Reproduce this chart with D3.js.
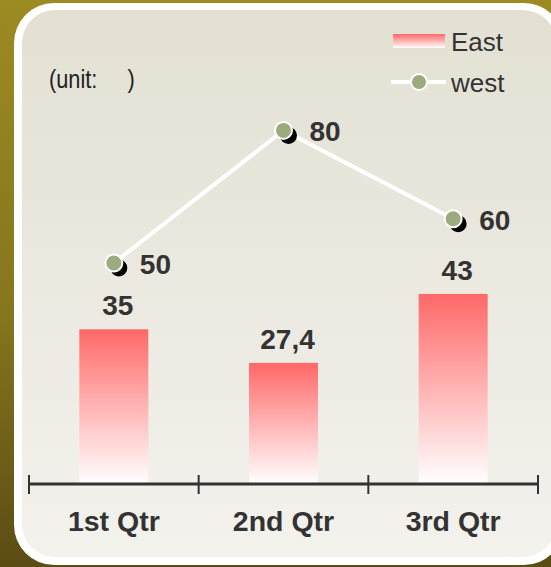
<!DOCTYPE html>
<html>
<head>
<meta charset="utf-8">
<script src="https://cdn.jsdelivr.net/npm/d3@7/dist/d3.min.js"></script>
<style>
  body { margin: 0; overflow: hidden; }
  text { font-family: "Liberation Sans", Arial, sans-serif; }
</style>
</head>
<body>
<script>
      var w = 551;
      var h = 567;

      var categories = ["1st Qtr", "2nd Qtr", "3rd Qtr"];
      var eastValues = [35, 27.4, 43];
      var eastLabels = ["35", "27,4", "43"];
      var westValues = [50, 80, 60];
      var westLabels = ["50", "80", "60"];
      var seriesNames = ["East", "west"];

      var svg = d3.select("body")
                  .append("svg")
                  .attr("width", w)
                  .attr("height", h);

      var defs = svg.append("defs");

      var bg = defs.append("linearGradient").attr("id", "bg")
                   .attr("x1", 0).attr("y1", 0).attr("x2", 0).attr("y2", 1);
      bg.append("stop").attr("offset", "0%").attr("stop-color", "#9c8a22");
      bg.append("stop").attr("offset", "55%").attr("stop-color", "#86761d");
      bg.append("stop").attr("offset", "100%").attr("stop-color", "#5a4c14");

      var panel = defs.append("linearGradient").attr("id", "panel")
                      .attr("x1", 0).attr("y1", 0).attr("x2", 0).attr("y2", 1);
      panel.append("stop").attr("offset", "0%").attr("stop-color", "#e3e0d3");
      panel.append("stop").attr("offset", "100%").attr("stop-color", "#f3f2ed");

      var barGrad = defs.append("linearGradient").attr("id", "barGrad")
                        .attr("x1", 0).attr("y1", 0).attr("x2", 0).attr("y2", 1);
      barGrad.append("stop").attr("offset", "0%").attr("stop-color", "#ff6868");
      barGrad.append("stop").attr("offset", "100%").attr("stop-color", "#ffffff");

      // background and frame
      svg.append("rect").attr("width", w).attr("height", h).attr("fill", "url(#bg)");
      svg.append("rect")
         .attr("x", 14).attr("y", 3).attr("width", 550).attr("height", 562)
         .attr("rx", 40).attr("fill", "#ffffff");
      svg.append("rect")
         .attr("x", 22).attr("y", 10).attr("width", 534).attr("height", 547)
         .attr("rx", 33).attr("fill", "url(#panel)");

      var x = d3.scaleBand()
                .domain(categories)
                .range([29, 538])
                .paddingInner(0)
                .paddingOuter(0);

      var y = d3.scaleLinear()
                .domain([0, 100])
                .range([484, 42]);

      var barW = 69;

      // bars
      svg.selectAll("rect.bar")
         .data(eastValues)
         .enter()
         .append("rect")
         .attr("class", "bar")
         .attr("x", function(d, i){ return x(categories[i]) + x.bandwidth() / 2 - barW / 2; })
         .attr("y", function(d){ return y(d); })
         .attr("width", barW)
         .attr("height", function(d){ return y(0) - y(d); })
         .attr("fill", "url(#barGrad)");

      svg.selectAll("text.barlabel")
         .data(eastLabels)
         .enter()
         .append("text")
         .attr("class", "barlabel")
         .text(function(d){ return d; })
         .attr("x", function(d, i){ return x(categories[i]) + x.bandwidth() / 2 + 4; })
         .attr("y", function(d, i){ return y(eastValues[i]) - 14; })
         .attr("text-anchor", "middle")
         .attr("font-size", "28px")
         .attr("font-weight", "bold")
         .attr("fill", "#333333");

      // axis
      var axis = d3.axisBottom(x).tickSize(0).tickFormat("");
      var gAxis = svg.append("g").attr("transform", "translate(0," + y(0) + ")").call(axis);
      gAxis.select(".domain").attr("stroke", "#333333").attr("stroke-width", 3)
           .attr("d", "M29,0H538");
      var bounds = [29].concat(categories.map(function(c){ return x(c) + x.bandwidth(); }));
      gAxis.selectAll("line.bnd")
           .data(bounds)
           .enter()
           .append("line")
           .attr("class", "bnd")
           .attr("x1", function(d){ return d; })
           .attr("x2", function(d){ return d; })
           .attr("y1", -9).attr("y2", 10)
           .attr("stroke", "#333333").attr("stroke-width", 2);

      svg.selectAll("text.cat")
         .data(categories)
         .enter()
         .append("text")
         .attr("class", "cat")
         .text(function(d){ return d; })
         .attr("x", function(d){ return x(d) + x.bandwidth() / 2; })
         .attr("y", 531)
         .attr("text-anchor", "middle")
         .attr("font-size", "28.5px")
         .attr("font-weight", "bold")
         .attr("fill", "#333333");

      // line series
      var line = d3.line()
                   .x(function(d, i){ return x(categories[i]) + x.bandwidth() / 2; })
                   .y(function(d){ return y(d); });

      svg.append("path")
         .datum(westValues)
         .attr("d", line)
         .attr("fill", "none")
         .attr("stroke", "#ffffff")
         .attr("stroke-width", 4);

      svg.selectAll("circle.shadow")
         .data(westValues)
         .enter()
         .append("circle")
         .attr("class", "shadow")
         .attr("cx", function(d, i){ return x(categories[i]) + x.bandwidth() / 2 + 5; })
         .attr("cy", function(d){ return y(d) + 5; })
         .attr("r", 8.5)
         .attr("fill", "#000000");

      svg.selectAll("circle.pt")
         .data(westValues)
         .enter()
         .append("circle")
         .attr("class", "pt")
         .attr("cx", function(d, i){ return x(categories[i]) + x.bandwidth() / 2; })
         .attr("cy", function(d){ return y(d); })
         .attr("r", 8.5)
         .attr("fill", "#9bab7d")
         .attr("stroke", "#ffffff")
         .attr("stroke-width", 2);

      svg.selectAll("text.ptlabel")
         .data(westLabels)
         .enter()
         .append("text")
         .attr("class", "ptlabel")
         .text(function(d){ return d; })
         .attr("x", function(d, i){ return x(categories[i]) + x.bandwidth() / 2 + 26; })
         .attr("y", function(d, i){ return y(westValues[i]) + 11; })
         .attr("font-size", "28px")
         .attr("font-weight", "bold")
         .attr("fill", "#333333");

      // unit note
      svg.append("text")
         .text("(unit:     )")
         .attr("transform", "translate(49,88) scale(0.87,1)")
         .attr("font-size", "25px")
         .attr("fill", "#222222")
         .style("white-space", "pre");

      // legend
      svg.append("rect")
         .attr("x", 393).attr("y", 34).attr("width", 52).attr("height", 14)
         .attr("fill", "url(#barGrad)");
      svg.append("line")
         .attr("x1", 391).attr("x2", 446).attr("y1", 82).attr("y2", 82)
         .attr("stroke", "#ffffff").attr("stroke-width", 4);
      svg.append("circle")
         .attr("cx", 419).attr("cy", 82).attr("r", 8)
         .attr("fill", "#9bab7d").attr("stroke", "#ffffff").attr("stroke-width", 2);

      svg.selectAll("text.leg")
         .data(seriesNames)
         .enter()
         .append("text")
         .attr("class", "leg")
         .text(function(d){ return d; })
         .attr("x", 451)
         .attr("y", function(d, i){ return 51 + i * 41; })
         .attr("font-size", "26px")
         .attr("fill", "#333333");
</script>
</body>
</html>
